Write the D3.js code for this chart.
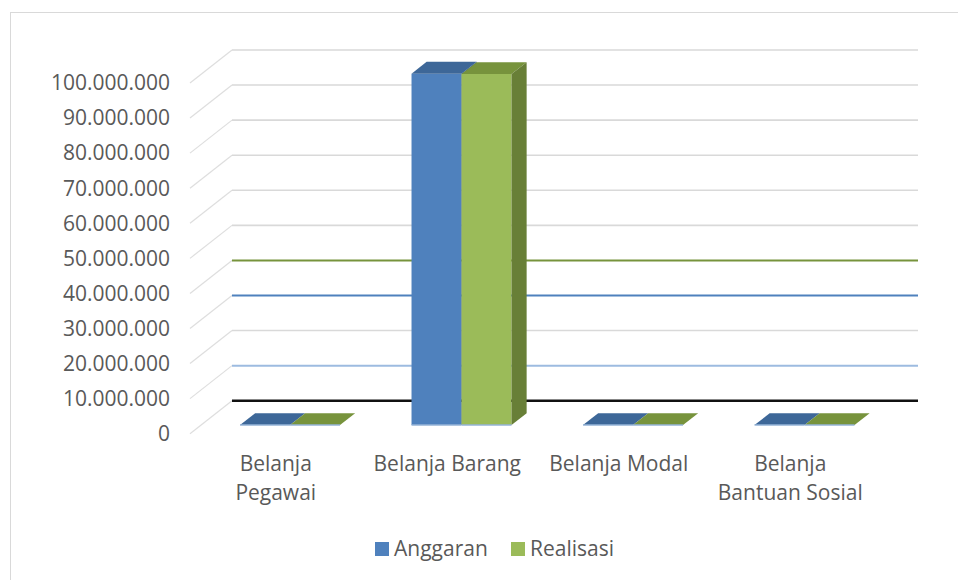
<!DOCTYPE html>
<html>
<head>
<meta charset="utf-8">
<script src="https://cdn.jsdelivr.net/npm/d3@7"></script>
<style>
  html, body { margin: 0; padding: 0; background: #ffffff; }
  svg { display: block; }
  text { font-family: "Open Sans", "Noto Sans", sans-serif; fill: #595959; }
</style>
</head>
<body>
<svg id="chart" width="958" height="580"></svg>
<script>
// ---- data ----
const categories = ["Belanja Pegawai", "Belanja Barang", "Belanja Modal", "Belanja Bantuan Sosial"];
const categoryLabelLines = [["Belanja", "Pegawai"], ["Belanja Barang"], ["Belanja Modal"], ["Belanja", "Bantuan Sosial"]];
const seriesNames = ["Anggaran", "Realisasi"];
const anggaran = [0, 100200000, 0, 0];
const realisasi = [0, 100100000, 0, 0];
const yTicks = [0, 10000000, 20000000, 30000000, 40000000, 50000000, 60000000, 70000000, 80000000, 90000000, 100000000];
const yTickLabels = ["0", "10.000.000", "20.000.000", "30.000.000", "40.000.000", "50.000.000", "60.000.000", "70.000.000", "80.000.000", "90.000.000", "100.000.000"];

// ---- styles ----
const colors = {
  Anggaran: { front: "#4f81bd", top: "#3d6798", side: "#395f8d", edge: "#95b3d7" },
  Realisasi: { front: "#9bbb59", top: "#77933c", side: "#687f37", edge: "#95b3d7" }
};
// special gridline colours seen in the reference
const gridStyle = {
  0: { stroke: "#111111", width: 2.6 },
  10000000: { stroke: "#9dbbe0", width: 2 },
  30000000: { stroke: "#4f81bd", width: 2 },
  40000000: { stroke: "#77933c", width: 2 }
};

const svg = d3.select("#chart");

// frame
svg.append("rect").attr("x", 10.5).attr("y", 12.5).attr("width", 980).attr("height", 600)
  .attr("fill", "none").attr("stroke", "#d9d9d9").attr("stroke-width", 1);

// ---- oblique 3D projection ----
const DX = 42, DY = -33;          // full depth vector
const y = d3.scaleLinear().domain([0, 100000000]).range([433.7, 83]);
const x = d3.scaleBand().domain(categories).range([190, 876]);
const proj = (px, v, z) => [px + DX * z, y(v) + DY * z];

// side wall diagonals + back wall gridlines
const gGrid = svg.append("g");
yTicks.forEach(t => {
  const a = proj(x.range()[0], t, 0), b = proj(x.range()[0], t, 1);
  gGrid.append("line").attr("x1", a[0]).attr("y1", a[1]).attr("x2", b[0]).attr("y2", b[1])
    .attr("stroke", "#dedede").attr("stroke-width", 1.2);
});
yTicks.forEach(t => {
  const st = gridStyle[t] || { stroke: "#d9d9d9", width: 1.6 };
  const b = proj(x.range()[0], t, 1), c = proj(x.range()[1], t, 1);
  gGrid.append("line").attr("x1", b[0]).attr("y1", b[1]).attr("x2", c[0]).attr("y2", c[1])
    .attr("stroke", st.stroke).attr("stroke-width", st.width);
});

// y labels
const FS = 21;
svg.append("g").selectAll("text").data(yTicks).join("text")
  .attr("x", 170).attr("y", d => y(d)).attr("dy", "0.35em")
  .attr("text-anchor", "end").attr("font-size", FS)
  .text((d, i) => yTickLabels[i]);

// bars
const z0 = 0.26, z1 = 0.62;
const inner = d3.scaleBand().domain(seriesNames).range([0, 100]);
const seriesData = { Anggaran: anggaran, Realisasi: realisasi };
const gBars = svg.append("g");
categories.forEach((cat, ci) => {
  const gx = x(cat) + 0.228 * x.bandwidth();
  seriesNames.forEach(s => {
    const v = seriesData[s][ci];
    const xl = gx + inner(s), xr = xl + inner.bandwidth();
    const pts = (arr) => arr.map(p => p.join(",")).join(" ");
    const fBL = proj(xl, 0, z0), fBR = proj(xr, 0, z0), fTR = proj(xr, v, z0), fTL = proj(xl, v, z0);
    const bTL = proj(xl, v, z1), bTR = proj(xr, v, z1), bBR = proj(xr, 0, z1);
    const c = colors[s];
    gBars.append("polygon").attr("points", pts([fBL, fBR, fTR, fTL])).attr("fill", c.front);
    gBars.append("polygon").attr("points", pts([fTL, fTR, bTR, bTL])).attr("fill", c.top);
    gBars.append("polygon").attr("points", pts([fBR, bBR, bTR, fTR])).attr("fill", c.side);
    gBars.append("line").attr("x1", fBL[0]).attr("y1", fBL[1]).attr("x2", fBR[0]).attr("y2", fBR[1])
      .attr("stroke", c.edge).attr("stroke-width", 1.5);
  });
});

// category labels
const gCat = svg.append("g");
categories.forEach((cat, ci) => {
  const cx = x(cat) + x.bandwidth() / 2;
  categoryLabelLines[ci].forEach((line, li) => {
    gCat.append("text").attr("x", cx).attr("y", 471 + li * 29)
      .attr("text-anchor", "middle").attr("font-size", FS).text(line);
  });
});

// legend
const legend = svg.append("g");
const legendX = [375, 511];
seriesNames.forEach((s, i) => {
  legend.append("rect").attr("x", legendX[i]).attr("y", 542).attr("width", 14).attr("height", 14)
    .attr("fill", colors[s].front);
  legend.append("text").attr("x", legendX[i] + 19).attr("y", 556).attr("font-size", FS).text(s);
});
</script>
</body>
</html>
